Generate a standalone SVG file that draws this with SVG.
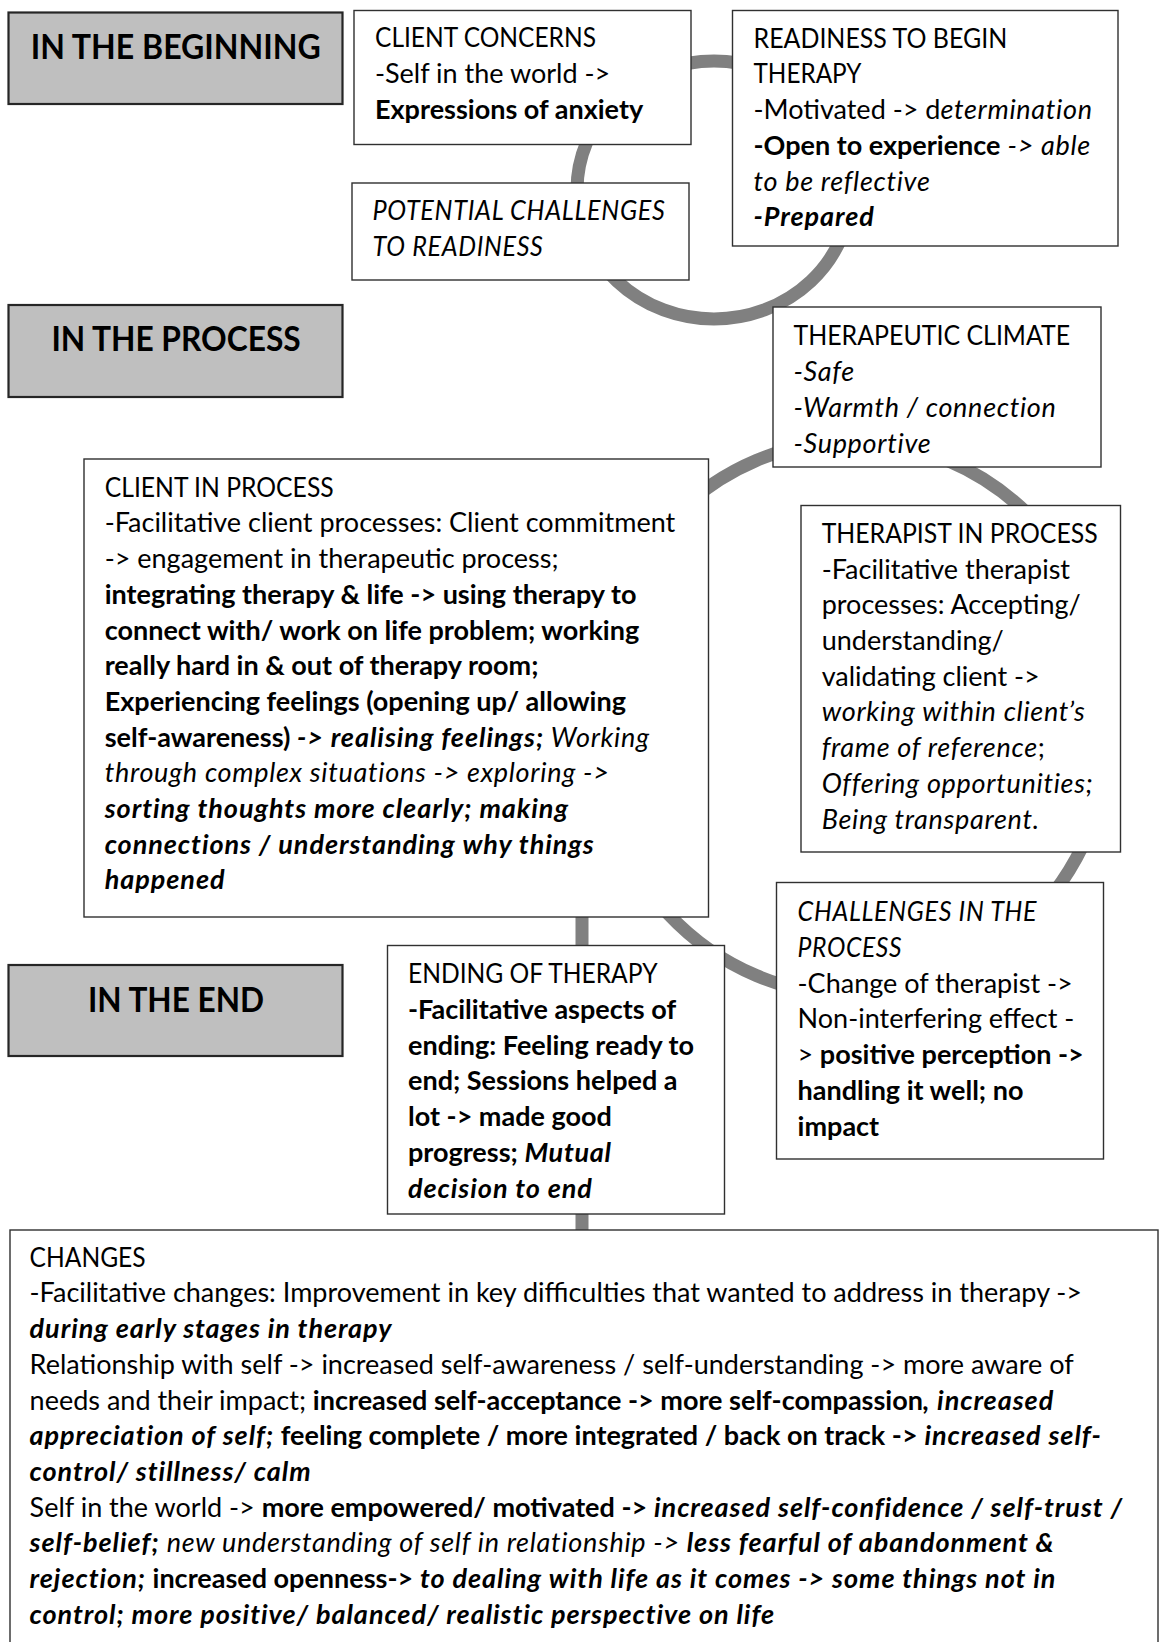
<svg xmlns="http://www.w3.org/2000/svg" width="1160" height="1642" viewBox="0 0 1160 1642">
<style>
.bg{fill:#ffffff}
.arc{fill:none;stroke:#808080;stroke-width:13}
.box{fill:#ffffff;stroke:#303030;stroke-width:1.4}
.hbox{fill:#bfbfbf;stroke:#262626;stroke-width:2.2}
.t{font-family:Lato,"Liberation Sans",sans-serif;font-size:27px;fill:#000}
.h{font-family:Lato,"Liberation Sans",sans-serif;font-size:35px;font-weight:bold;fill:#000}
.b{font-weight:bold}
.i{font-style:italic;letter-spacing:0.7px}
.b.i{letter-spacing:0.95px}
</style>
<rect class="bg" x="0" y="0" width="1160" height="1642"/>
<g id="connectors">
<ellipse class="arc" cx="714" cy="190" rx="137" ry="129"/>
<ellipse class="arc" cx="852" cy="718" rx="260" ry="277"/>
<line class="arc" x1="582" y1="900" x2="582" y2="1240"/>
</g>
<g id="hdr-beginning">
<rect class="hbox" x="8.5" y="12.5" width="334" height="91.5"/>
<text class="h" x="30.8" y="59" textLength="290" lengthAdjust="spacingAndGlyphs">IN THE BEGINNING</text>
</g>
<g id="hdr-process">
<rect class="hbox" x="8.5" y="305" width="334" height="92"/>
<text class="h" x="51.4" y="351" textLength="249.3" lengthAdjust="spacingAndGlyphs">IN THE PROCESS</text>
</g>
<g id="hdr-end">
<rect class="hbox" x="8.5" y="965" width="334" height="91"/>
<text class="h" x="88" y="1012" textLength="176" lengthAdjust="spacingAndGlyphs">IN THE END</text>
</g>
<g id="client-concerns">
<rect class="box" x="354" y="10.5" width="337" height="134"/>
<text class="t" x="375" y="47.3" textLength="221" lengthAdjust="spacingAndGlyphs">CLIENT CONCERNS</text>
<text class="t" x="375" y="83.3">-Self in the world -&gt;</text>
<text class="t b" x="375" y="119">Expressions of anxiety</text>
</g>
<g id="potential-challenges">
<rect class="box" x="352" y="183" width="337" height="97"/>
<text class="t i" x="372.5" y="220" textLength="293" lengthAdjust="spacingAndGlyphs">POTENTIAL CHALLENGES</text>
<text class="t i" x="372.5" y="255.5" textLength="171" lengthAdjust="spacingAndGlyphs">TO READINESS</text>
</g>
<g id="readiness">
<rect class="box" x="732.5" y="10.5" width="385.5" height="235.5"/>
<text class="t" x="753.5" y="47.7" textLength="253.7" lengthAdjust="spacingAndGlyphs">READINESS TO BEGIN</text>
<text class="t" x="753.5" y="83.4" textLength="108" lengthAdjust="spacingAndGlyphs">THERAPY</text>
<text class="t" x="753.5" y="119.1">-Motivated -&gt; d<tspan class="i">etermination</tspan></text>
<text class="t" x="753.5" y="154.8"><tspan class="b">-Open to experience</tspan><tspan class="i"> -&gt; able</tspan></text>
<text class="t i" x="753.5" y="190.5">to be reflective</text>
<text class="t b i" x="753.5" y="226.2">-Prepared</text>
</g>
<g id="therapeutic-climate">
<rect class="box" x="773" y="307" width="328" height="160"/>
<text class="t" x="793.5" y="345.4" textLength="276.7" lengthAdjust="spacingAndGlyphs">THERAPEUTIC CLIMATE</text>
<text class="t i" x="793.5" y="381.1">-Safe</text>
<text class="t i" x="793.5" y="416.8">-Warmth / connection</text>
<text class="t i" x="793.5" y="452.5">-Supportive</text>
</g>
<g id="therapist-in-process">
<rect class="box" x="801" y="505.5" width="319.5" height="346.5"/>
<text class="t" x="821.7" y="542.9" textLength="276" lengthAdjust="spacingAndGlyphs">THERAPIST IN PROCESS</text>
<text class="t" x="821.7" y="578.6">-Facilitative therapist</text>
<text class="t" x="821.7" y="614.3">processes: Accepting/</text>
<text class="t" x="821.7" y="650">understanding/</text>
<text class="t" x="821.7" y="685.7">validating client -&gt;</text>
<text class="t i" x="821.7" y="721.4">working within client’s</text>
<text class="t" x="821.7" y="757.1"><tspan class="i">frame of reference</tspan>;</text>
<text class="t i" x="821.7" y="792.8">Offering opportunities;</text>
<text class="t i" x="821.7" y="828.5">Being transparent.</text>
</g>
<g id="client-in-process">
<rect class="box" x="84" y="459" width="624.5" height="458"/>
<text class="t" x="104.7" y="496.7" textLength="229" lengthAdjust="spacingAndGlyphs">CLIENT IN PROCESS</text>
<text class="t" x="104.7" y="532.4">-Facilitative client processes: Client commitment</text>
<text class="t" x="104.7" y="568.1">-&gt; engagement in therapeutic process;</text>
<text class="t b" x="104.7" y="603.8">integrating therapy &amp; life -&gt; using therapy to</text>
<text class="t b" x="104.7" y="639.5">connect with/ work on life problem; working</text>
<text class="t b" x="104.7" y="675.2">really hard in &amp; out of therapy room;</text>
<text class="t b" x="104.7" y="710.9">Experiencing feelings (opening up/ allowing</text>
<text class="t" x="104.7" y="746.6"><tspan class="b">self-awareness) </tspan><tspan class="b i">-&gt; realising feelings;</tspan><tspan class="i"> Working</tspan></text>
<text class="t i" x="104.7" y="782.3">through complex situations -&gt; exploring -&gt;</text>
<text class="t b i" x="104.7" y="818">sorting thoughts more clearly; making</text>
<text class="t b i" x="104.7" y="853.7">connections / understanding why things</text>
<text class="t b i" x="104.7" y="889.4">happened</text>
</g>
<g id="challenges-in-process">
<rect class="box" x="776.5" y="882.5" width="327" height="276.5"/>
<text class="t i" x="797.6" y="921.3" textLength="239.6" lengthAdjust="spacingAndGlyphs">CHALLENGES IN THE</text>
<text class="t i" x="797.6" y="957" textLength="104.6" lengthAdjust="spacingAndGlyphs">PROCESS</text>
<text class="t" x="797.6" y="992.7">-Change of therapist -&gt;</text>
<text class="t" x="797.6" y="1028.4">Non-interfering effect -</text>
<text class="t" x="797.6" y="1064.1">&gt;<tspan class="b"> positive perception -&gt;</tspan></text>
<text class="t b" x="797.6" y="1099.8">handling it well; no</text>
<text class="t b" x="797.6" y="1135.5">impact</text>
</g>
<g id="ending-of-therapy">
<rect class="box" x="387.5" y="945.5" width="337" height="268.5"/>
<text class="t" x="408" y="983.3" textLength="249.5" lengthAdjust="spacingAndGlyphs">ENDING OF THERAPY</text>
<text class="t b" x="408" y="1019">-Facilitative aspects of</text>
<text class="t b" x="408" y="1054.7">ending: Feeling ready to</text>
<text class="t b" x="408" y="1090.4">end; Sessions helped a</text>
<text class="t b" x="408" y="1126.1">lot -&gt; made good</text>
<text class="t b" x="408" y="1161.8">progress; <tspan class="i">Mutual</tspan></text>
<text class="t b i" x="408" y="1197.5">decision to end</text>
</g>
<g id="changes">
<rect class="box" x="10" y="1230" width="1148" height="430"/>
<text class="t" x="29.6" y="1266.7" textLength="116" lengthAdjust="spacingAndGlyphs">CHANGES</text>
<text class="t" x="29.6" y="1302.4">-Facilitative changes: Improvement in key difficulties that wanted to address in therapy -&gt;</text>
<text class="t b i" x="29.6" y="1338.1">during early stages in therapy</text>
<text class="t" x="29.6" y="1373.8">Relationship with self -&gt; increased self-awareness / self-understanding -&gt; more aware of</text>
<text class="t" x="29.6" y="1409.5">needs and their impact; <tspan class="b">increased self-acceptance -&gt; more self-compassion</tspan><tspan class="b i">, increased</tspan></text>
<text class="t" x="29.6" y="1445.2"><tspan class="b i">appreciation of self;</tspan><tspan class="b"> feeling complete / more integrated / back on track -&gt;</tspan><tspan class="b i"> increased self-</tspan></text>
<text class="t b i" x="29.6" y="1480.9">control/ stillness/ calm</text>
<text class="t" x="29.6" y="1516.6">Self in the world -&gt; <tspan class="b">more empowered/ motivated -&gt;</tspan><tspan class="b i"> increased self-confidence / self-trust /</tspan></text>
<text class="t" x="29.6" y="1552.3"><tspan class="b i">self-belief;</tspan><tspan class="i"> new understanding of self in relationship -&gt;</tspan><tspan class="b i"> less fearful of abandonment &amp;</tspan></text>
<text class="t" x="29.6" y="1588"><tspan class="b i">rejection;</tspan><tspan class="b"> increased openness-&gt;</tspan><tspan class="b i"> to dealing with life as it comes -&gt; some things not in</tspan></text>
<text class="t b i" x="29.6" y="1623.7">control; more positive/ balanced/ realistic perspective on life</text>
</g>
</svg>
